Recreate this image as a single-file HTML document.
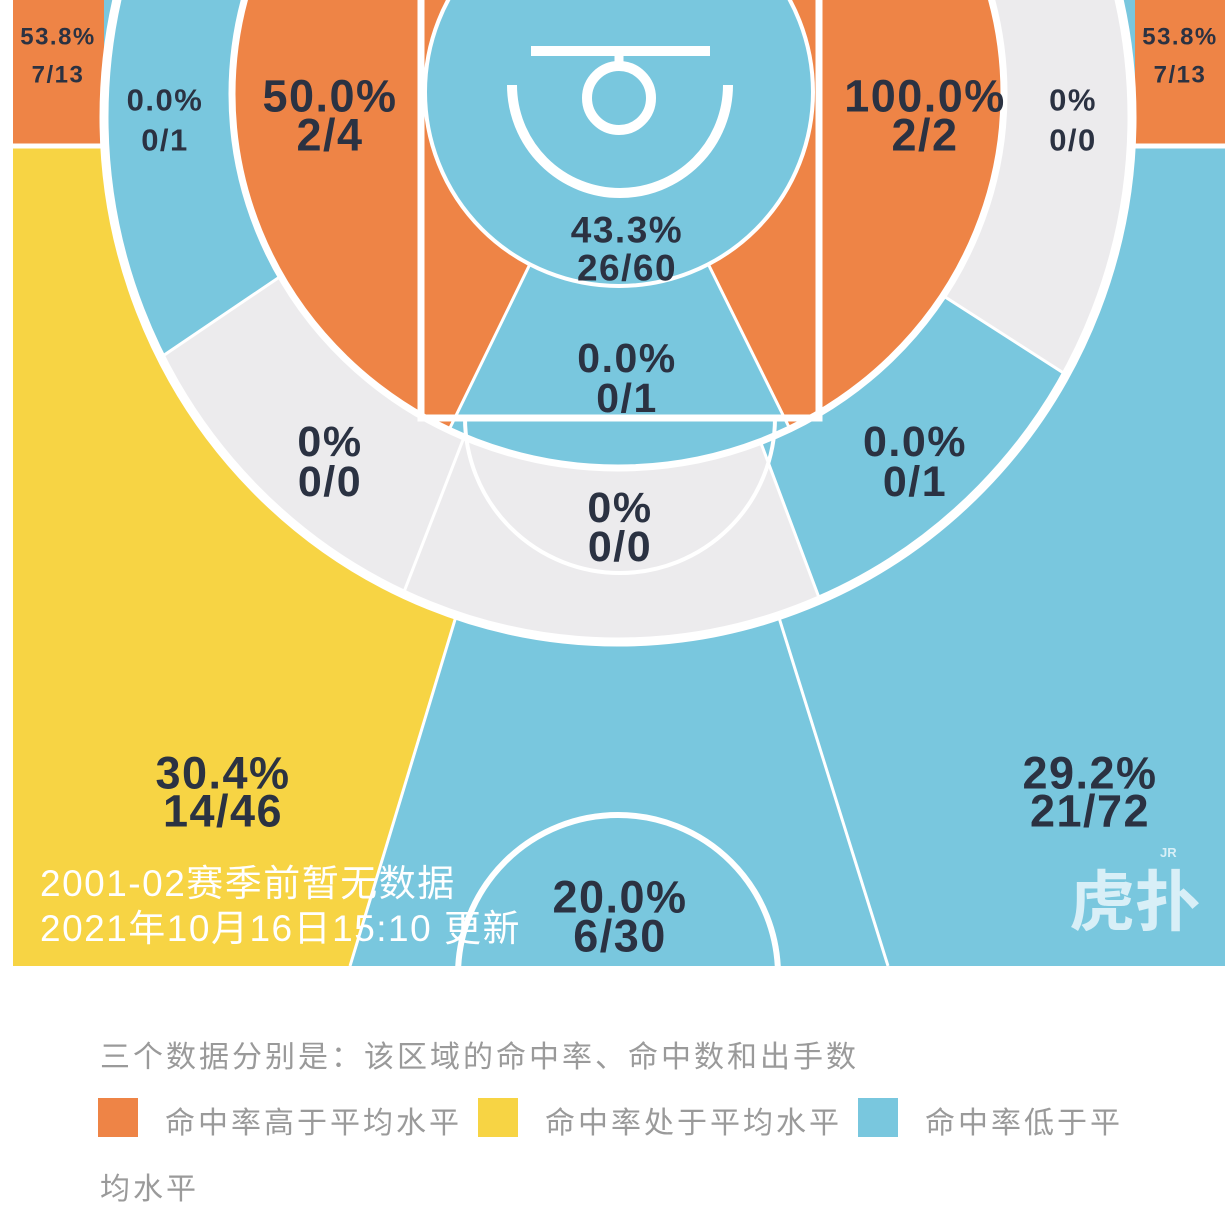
<!DOCTYPE html>
<html><head><meta charset="utf-8">
<style>
html,body{margin:0;padding:0;background:#fff;width:1227px;height:1228px;overflow:hidden}
svg{display:block}
.t{font-family:"Liberation Sans","Noto Sans CJK SC",sans-serif;font-weight:bold;fill:#2b3242;letter-spacing:1.5px}
.cn{font-family:"Liberation Sans","Noto Sans CJK SC",sans-serif}
</style></head>
<body>
<svg id="chart" width="1227" height="1228" viewBox="0 0 1227 1228" xmlns="http://www.w3.org/2000/svg">
<defs>
<clipPath id="court"><rect x="13" y="0" width="1212" height="966"/></clipPath>
<clipPath id="outerClip"><ellipse cx="618" cy="117" rx="514" ry="525"/></clipPath>
<clipPath id="innerClip"><ellipse cx="618" cy="94" rx="386" ry="374"/></clipPath>
</defs>
<g clip-path="url(#court)">
<rect x="13" y="0" width="1212" height="966" fill="#79c7de"/>
<polygon points="13,148 598,148 350,966 13,966" fill="#f7d444"/>
<line x1="598" y1="148" x2="350" y2="966" stroke="#fff" stroke-width="3"/>
<line x1="632" y1="148" x2="888" y2="966" stroke="#fff" stroke-width="3"/>
<rect x="13" y="0" width="91" height="144" fill="#ee8446"/>
<rect x="1135" y="0" width="90" height="144" fill="#ee8446"/>
<line x1="13" y1="146" x2="110" y2="146" stroke="#fff" stroke-width="5"/>
<line x1="1130" y1="146" x2="1225" y2="146" stroke="#fff" stroke-width="5"/>
<g clip-path="url(#outerClip)">
<rect x="0" y="-50" width="1227" height="800" fill="#ecebed"/>
<polygon points="618,48 -50,500 -50,-50 618,-50" fill="#79c7de" stroke="#fff" stroke-width="3"/>
<polygon points="632,100 868,728 1400,728 1400,589 618,87" fill="#79c7de" stroke="#fff" stroke-width="3"/>
<line x1="595" y1="100" x2="362" y2="700" stroke="#fff" stroke-width="3"/>
</g>
<ellipse cx="618" cy="117" rx="514" ry="525" fill="none" stroke="#fff" stroke-width="9"/>
<g clip-path="url(#innerClip)">
<rect x="0" y="-50" width="1227" height="600" fill="#ee8446"/>
<polygon points="613,94 405,520 835,520 624,94" fill="#79c7de" stroke="#fff" stroke-width="3"/>
</g>
<ellipse cx="618" cy="94" rx="386" ry="374" fill="none" stroke="#fff" stroke-width="7"/>
<circle cx="619" cy="92" r="194" fill="#79c7de" stroke="#fff" stroke-width="4"/>
<rect x="421" y="-10" width="398" height="428" fill="none" stroke="#fff" stroke-width="7"/>
<path d="M465,418 A155,155 0 0 0 775,418" fill="none" stroke="#fff" stroke-width="4"/>
<line x1="531" y1="51" x2="710" y2="51" stroke="#fff" stroke-width="10"/>
<line x1="619" y1="55" x2="619" y2="66" stroke="#fff" stroke-width="9"/>
<circle cx="619" cy="98" r="32" fill="none" stroke="#fff" stroke-width="10"/>
<path d="M512,85 A108,108 0 0 0 728,85" fill="none" stroke="#fff" stroke-width="10"/>
<circle cx="618" cy="975" r="160" fill="none" stroke="#fff" stroke-width="6"/>
<text class="cn" x="1135" y="925" font-size="66" font-weight="bold" fill="#d8eff7" text-anchor="middle">虎扑</text>
<text x="1160" y="857" font-size="13" font-weight="bold" fill="#d8eff7" font-family="Liberation Sans, sans-serif">JR</text>
<text class="cn" x="40" y="896" font-size="37" fill="#fff" letter-spacing="1.5">2001-02赛季前暂无数据</text>
<text class="cn" x="40" y="941" font-size="37" fill="#fff" letter-spacing="1.5">2021年10月16日15:10 更新</text>
<g id="labels"></g>
</g>
<text class="cn" x="100" y="1067" font-size="30" fill="#9a9a9a" letter-spacing="3">三个数据分别是：该区域的命中率、命中数和出手数</text>
<rect x="98" y="1098" width="40" height="39" fill="#ee8446"/>
<text class="cn" x="165" y="1133" font-size="30" fill="#9a9a9a" letter-spacing="3">命中率高于平均水平</text>
<rect x="478" y="1098" width="40" height="39" fill="#f7d444"/>
<text class="cn" x="545" y="1133" font-size="30" fill="#9a9a9a" letter-spacing="3">命中率处于平均水平</text>
<rect x="858" y="1098" width="40" height="39" fill="#79c7de"/>
<text class="cn" x="925" y="1133" font-size="30" fill="#9a9a9a" letter-spacing="3">命中率低于平</text>
<text class="cn" x="100" y="1199" font-size="30" fill="#9a9a9a" letter-spacing="3">均水平</text>
</svg>
<script>
const zoneNames = ["left-corner","right-corner","left-baseline-long","left-mid","right-mid","right-baseline-long","restricted","paint","left-wing-long","right-wing-long","center-long","left-wing-three","right-wing-three","center-three"];
const zonePct = ["53.8%","53.8%","0.0%","50.0%","100.0%","0%","43.3%","0.0%","0%","0.0%","0%","30.4%","29.2%","20.0%"];
const zoneMade = [7,7,0,2,2,0,26,0,0,0,0,14,21,6];
const zoneAtt = [13,13,1,4,2,0,60,1,0,1,0,46,72,30];
const layout = {
 "left-corner":[58,37,75,24],"right-corner":[1180,37,75,24],
 "left-baseline-long":[165,100,140,31],"left-mid":[330,96,135,45],
 "right-mid":[925,96,135,45],"right-baseline-long":[1073,100,140,31],
 "restricted":[627,230,268,37],"paint":[627,358,398,41],
 "left-wing-long":[330,442,482,43],"right-wing-long":[915,442,482,43],
 "center-long":[620,508,547,43],"left-wing-three":[223,773,811,45],
 "right-wing-three":[1090,773,811,45],"center-three":[620,897,936,45]
};
const g = document.getElementById('labels');
const NS = "http://www.w3.org/2000/svg";
zoneNames.forEach((n,i)=>{
  const L = layout[n];
  const lines = [zonePct[i], zoneMade[i]+"/"+zoneAtt[i]];
  lines.forEach((s,k)=>{
    const t = document.createElementNS(NS,'text');
    
    
    t.setAttribute('class','t');
    t.setAttribute('x', L[0]);
    t.setAttribute('y', k?L[2]:L[1]);
    t.setAttribute('font-size', L[3]);
    t.setAttribute('text-anchor','middle');
    t.setAttribute('dominant-baseline','central');
    t.textContent = s;
    g.appendChild(t);
  });
});
</script>
</body></html>
